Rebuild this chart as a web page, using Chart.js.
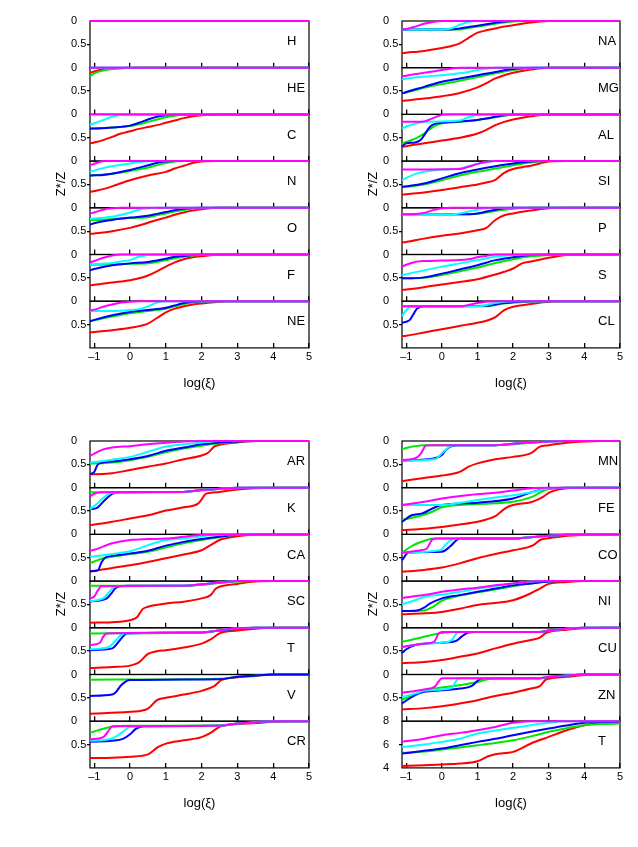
<!DOCTYPE html>
<html>
<head>
<meta charset="utf-8">
<script src="https://cdn.jsdelivr.net/npm/chart.js@4.4.1/dist/chart.umd.min.js"></script>
<style>
  body { margin: 0; background: #fff; }
  #page { position: relative; width: 638px; height: 847px; overflow: hidden;
          font-family: "Liberation Sans", Arial, sans-serif; color: #000; }
  .box { position: absolute; }
  .txt { position: absolute; font-size: 13px; line-height: 13px; white-space: nowrap; }
  .rot { transform: translate(-50%, -50%) rotate(-90deg); }
  .mid { transform: translate(-50%, -50%); }
</style>
</head>
<body>
<div id="page"></div>
<script>
// ── Données ────────────────────────────────────────────────────────────────
const XT = [-1, 0, 1, 2, 3, 4, 5];     // graduations log(ξ)
const ZT = [0, 0.5];                   // graduations Z*/Z
const TT = [4, 6, 8];                  // graduations du panneau T (log T)

// chaque élément : rouge, vert, bleu, cyan, magenta — paires x,y à plat
const H = [
  [-1.12,0, 5,0], [-1.12,0, 5,0], [-1.12,0, 5,0], [-1.12,0, 5,0], [-1.12,0, 5,0],
];
const HE = [
  [-1.12,.11, -1,.08, -0.75,.04, -0.5,.02, -0.25,.01, 0,0, 5,0],
  [-1.12,.18, -1,.12, -0.75,.06, -0.5,.03, -0.25,.01, 0.25,0, 5,0],
  [-1.12,0, 5,0], [-1.12,0, 5,0], [-1.12,0, 5,0],
];
const C = [
  [-1.12,.62, -1,.6, -0.75,.55, -0.5,.48, -0.25,.41, 0,.36, 0.25,.31, 0.5,.27, 0.75,.23, 1,.18, 1.25,.13, 1.5,.08, 1.75,.04, 2,.02, 2.5,0, 5,0],
  [-1.12,.3, -1,.3, -0.5,.28, 0,.25, 0.25,.21, 0.5,.16, 0.75,.11, 1,.06, 1.25,.03, 1.5,.01, 2,0, 5,0],
  [-1.12,.3, -1,.3, -0.5,.28, 0,.24, 0.25,.18, 0.5,.11, 0.75,.05, 1,.02, 1.25,0, 5,0],
  [-1.12,.23, -1,.19, -0.75,.12, -0.5,.05, -0.25,.01, 0,0, 5,0],
  [-1.12,0, 5,0],
];
const N = [
  [-1.12,.66, -0.7,.59, -0.35,.5, 0,.41, 0.5,.31, 1,.23, 1.25,.16, 1.55,.09, 1.75,.04, 2,.01, 2.5,0, 5,0],
  [-1.12,.31, -0.5,.27, 0,.21, 0.6,.12, 0.85,.07, 1.07,.03, 1.5,0, 5,0],
  [-1.12,.31, -0.7,.29, 0,.19, 0.5,.09, 0.75,.04, 0.95,.01, 1.25,0, 5,0],
  [-1.12,.23, -0.7,.14, 0,.05, 0.4,.01, 0.75,0, 5,0],
  [-1.12,.09, -0.9,.03, -0.7,0, 5,0],
];
const O = [
  [-1.12,.56, -1,.55, -0.5,.5, 0,.43, 0.25,.38, 0.5,.32, 0.75,.26, 1,.21, 1.25,.15, 1.5,.1, 1.75,.06, 2,.03, 2.5,0, 5,0],
  [-1.12,.26, -1,.26, -0.5,.24, 0,.22, 0.5,.2, 0.75,.16, 1,.12, 1.25,.08, 1.5,.05, 1.75,.02, 2,.01, 2.5,0, 5,0],
  [-1.12,.36, -1,.33, -0.5,.26, 0,.21, 0.5,.17, 0.75,.13, 1,.09, 1.25,.05, 1.5,.02, 2,0, 5,0],
  [-1.12,.24, -1,.23, -0.5,.19, -0.25,.15, 0,.1, 0.25,.04, 0.5,.01, 0.75,0, 5,0],
  [-1.12,.12, -1,.1, -0.75,.04, -0.5,.01, -0.25,0, 5,0],
];
const F = [
  [-1.12,.66, -1,.65, -0.5,.6, 0,.55, 0.25,.51, 0.5,.45, 0.75,.36, 1,.26, 1.25,.17, 1.5,.1, 1.75,.06, 2,.035, 2.25,.015, 2.5,0, 5,0],
  [-1.12,.22, -1,.22, -0.5,.21, 0,.2, 0.5,.19, 0.75,.16, 1,.12, 1.25,.08, 1.5,.05, 1.75,.02, 2,.01, 2.5,0, 5,0],
  [-1.12,.34, -1,.31, -0.5,.23, 0,.19, 0.5,.16, 0.75,.13, 1,.09, 1.25,.05, 1.5,.03, 2,0, 5,0],
  [-1.12,.22, -1,.21, -0.5,.18, -0.25,.15, 0,.12, 0.25,.05, 0.5,.01, 0.75,0, 5,0],
  [-1.12,.17, -1,.14, -0.75,.07, -0.5,.02, -0.25,0, 5,0],
];
const NE = [
  [-1.12,.67, -1,.66, -0.5,.62, 0,.57, 0.5,.48, 0.75,.36, 1,.24, 1.25,.16, 1.5,.11, 1.75,.07, 2,.05, 2.25,.03, 2.5,.01, 2.75,0, 5,0],
  [-1.12,.43, -1,.41, -0.5,.33, 0,.26, 0.5,.21, 1,.16, 1.25,.11, 1.5,.06, 1.75,.03, 2,.01, 2.5,0, 5,0],
  [-1.12,.43, -1,.4, -0.5,.3, 0,.23, 0.5,.19, 1,.14, 1.25,.09, 1.5,.04, 1.75,.01, 2,0, 5,0],
  [-1.12,.21, -0.5,.21, 0,.19, 0.25,.17, 0.5,.11, 0.75,.03, 1,0, 5,0],
  [-1.12,.2, -1,.18, -0.75,.12, -0.5,.07, -0.25,.03, 0,.01, 0.25,0, 5,0],
];
const NA = [
  [-1.12,.69, -1,.68, -0.5,.64, 0,.58, 0.25,.54, 0.5,.48, 0.75,.36, 1,.25, 1.25,.2, 1.5,.16, 1.75,.12, 2,.09, 2.25,.06, 2.5,.03, 2.75,.01, 3,0, 5,0],
  [-1.12,.18, 0.5,.18, 0.75,.15, 1,.12, 1.25,.09, 1.5,.06, 1.75,.03, 2,.01, 2.5,0, 5,0],
  [-1.12,.18, 0.25,.18, 0.5,.16, 0.75,.13, 1,.1, 1.25,.07, 1.5,.04, 1.75,.01, 2,0, 5,0],
  [-1.12,.18, 0,.18, 0.25,.16, 0.5,.08, 0.75,.02, 1,0, 5,0],
  [-1.12,.18, -1,.17, -0.75,.12, -0.5,.06, -0.25,.02, 0,0, 5,0],
];
const MG = [
  [-1.12,.71, -1,.7, -0.5,.66, 0,.61, 0.5,.54, 1,.42, 1.25,.33, 1.5,.23, 1.75,.16, 2,.11, 2.5,.04, 3,0, 5,0],
  [-1.12,.55, -1,.53, -0.5,.43, 0,.35, 0.5,.28, 1,.2, 1.5,.12, 2,.05, 2.5,.01, 3,0, 5,0],
  [-1.12,.55, -1,.52, -0.5,.41, 0,.3, 0.5,.23, 1,.16, 1.5,.09, 2,.03, 2.5,0, 5,0],
  [-1.12,.25, -1,.23, -0.5,.19, 0,.16, 0.5,.12, 1,.05, 1.25,.02, 1.5,0, 5,0],
  [-1.12,.18, -1,.17, -0.5,.11, 0,.05, 0.25,.02, 0.5,0, 5,0],
];
const AL = [
  [-1.12,.69, -1,.68, -0.5,.62, 0,.56, 0.5,.5, 1,.41, 1.25,.33, 1.5,.23, 1.75,.16, 2,.11, 2.5,.04, 3,0, 5,0],
  [-1.12,.62, -1,.59, -0.75,.52, -0.5,.41, -0.25,.27, 0,.19, 0.5,.16, 1,.12, 1.25,.09, 1.5,.06, 1.75,.03, 2,.01, 2.5,0, 5,0],
  [-1.12,.69, -1,.62, -0.75,.6, -0.6,.55, -0.5,.45, -0.35,.28, -0.25,.22, 0,.18, 0.5,.15, 1,.12, 1.25,.09, 1.5,.05, 1.75,.02, 2,0, 5,0],
  [-1.12,.3, -1,.26, -0.75,.2, -0.5,.16, 0,.15, 0.5,.13, 0.75,.06, 1,.01, 1.25,0, 5,0],
  [-1.12,.16, -0.5,.15, -0.25,.08, 0,.01, 0.25,0, 5,0],
];
const SI = [
  [-1.12,.72, -1,.71, -0.5,.67, 0,.62, 0.5,.56, 1,.5, 1.25,.46, 1.5,.4, 1.75,.25, 2,.17, 2.25,.13, 2.5,.1, 2.75,.05, 3,.01, 3.5,0, 5,0],
  [-1.12,.55, -1,.55, -0.5,.5, 0,.41, 0.5,.31, 1,.23, 1.5,.16, 2,.09, 2.5,.03, 3,0, 5,0],
  [-1.12,.55, -1,.54, -0.5,.48, 0,.37, 0.5,.26, 1,.18, 1.5,.11, 2,.05, 2.5,.01, 3,0, 5,0],
  [-1.12,.41, -1,.36, -0.75,.28, -0.5,.23, 0,.18, 0.5,.16, 0.75,.11, 1,.06, 1.25,.02, 1.5,0, 5,0],
  [-1.12,.18, 0.5,.17, 0.75,.12, 1,.06, 1.25,.02, 1.5,0, 5,0],
];
const P = [
  [-1.12,.74, -1,.73, -0.5,.66, 0,.6, 0.5,.55, 1,.48, 1.25,.43, 1.5,.26, 1.75,.16, 2,.12, 2.5,.06, 3,.01, 3.5,0, 5,0],
  [-1.12,.14, 0.75,.14, 1,.13, 1.25,.1, 1.5,.07, 1.75,.04, 2,.02, 2.5,0, 5,0],
  [-1.12,.14, 0.5,.14, 1,.12, 1.25,.08, 1.5,.04, 1.75,.01, 2,0, 5,0],
  [-1.12,.14, 0,.14, 0.5,.12, 0.75,.08, 1,.04, 1.25,.01, 1.5,0, 5,0],
  [-1.12,.14, -1,.14, -0.5,.11, -0.25,.05, 0,.01, 0.25,0, 5,0],
];
const S = [
  [-1.12,.76, -1,.75, -0.5,.7, 0,.64, 0.5,.59, 1,.53, 1.5,.43, 1.75,.37, 2,.3, 2.25,.19, 2.5,.15, 3,.07, 3.5,.01, 4,0, 5,0],
  [-1.12,.51, -1,.51, -0.5,.5, 0,.44, 0.5,.36, 1,.28, 1.5,.18, 2,.1, 2.5,.04, 3,.01, 3.5,0, 5,0],
  [-1.12,.51, -1,.51, -0.5,.49, 0,.41, 0.5,.32, 1,.23, 1.5,.12, 2,.06, 2.5,.01, 3,0, 5,0],
  [-1.12,.44, -1,.42, -0.5,.34, 0,.26, 0.5,.19, 1,.12, 1.5,.05, 2,.01, 2.5,0, 5,0],
  [-1.12,.26, -1,.22, -0.75,.16, -0.5,.14, 0,.13, 0.5,.12, 0.75,.1, 1,.06, 1.25,.03, 1.5,0, 5,0],
];
const CL = [
  [-1.12,.75, -1,.74, -0.5,.67, 0,.6, 0.5,.53, 1,.46, 1.25,.42, 1.5,.34, 1.75,.19, 2,.12, 2.5,.06, 3,.01, 3.5,0, 5,0],
  [-1.12,.11, 1.25,.11, 1.5,.08, 1.75,.05, 2,.03, 2.5,.01, 3,0, 5,0],
  [-1.12,.46, -1,.44, -0.9,.4, -0.8,.28, -0.7,.16, -0.6,.12, -0.5,.11, 1.25,.1, 1.5,.07, 1.75,.04, 2,.02, 2.5,0, 5,0],
  [-1.12,.32, -1,.19, -0.85,.12, -0.5,.11, 1,.11, 1.25,.08, 1.5,.04, 1.75,.01, 2,0, 5,0],
  [-1.12,.11, 0.5,.11, 0.75,.08, 1,.04, 1.25,.01, 1.5,0, 5,0],
];
const AR = [
  [-1.12,.71, -1,.71, -0.5,.69, 0,.62, 0.5,.55, 1,.48, 1.5,.39, 2,.31, 2.2,.24, 2.35,.12, 2.5,.08, 3,.03, 3.5,0, 5,0],
  [-1.12,.48, -1,.48, -0.5,.46, 0,.41, 0.5,.34, 1,.24, 1.5,.16, 2,.1, 2.5,.05, 3,.01, 3.5,0, 5,0],
  [-1.12,.71, -1,.66, -0.9,.5, -0.75,.46, -0.5,.44, 0,.39, 0.5,.32, 1,.21, 1.5,.14, 2,.07, 2.5,.03, 3,.01, 3.5,0, 5,0],
  [-1.12,.46, -1,.45, -0.5,.4, 0,.34, 0.5,.23, 0.75,.17, 1,.12, 1.5,.07, 2,.03, 2.5,0, 5,0],
  [-1.12,.32, -1,.27, -0.75,.18, -0.5,.14, 0,.11, 0.5,.07, 1,.04, 1.5,.01, 2,0, 5,0],
];
const K = [
  [-1.12,.8, -1,.79, -0.5,.73, 0,.66, 0.5,.59, 1,.49, 1.5,.42, 1.9,.34, 2,.25, 2.1,.14, 2.25,.11, 2.5,.09, 3,.04, 3.5,.01, 4,0, 5,0],
  [-1.12,.1, 1.5,.09, 2,.06, 2.5,.03, 3,.01, 3.5,0, 5,0],
  [-1.12,.46, -1,.45, -0.9,.42, -0.75,.3, -0.6,.19, -0.5,.13, -0.25,.1, 1.5,.09, 2,.05, 2.5,.02, 3,0, 5,0],
  [-1.12,.46, -1,.39, -0.9,.33, -0.75,.22, -0.6,.14, -0.5,.11, 1.5,.09, 2,.05, 2.5,.02, 3,0, 5,0],
  [-1.12,.19, -1,.13, -0.8,.1, 1.5,.09, 2,.05, 2.5,.02, 3,0, 5,0],
];
const CA = [
  [-1.12,.79, -1,.78, -0.5,.72, 0,.66, 0.5,.59, 1,.51, 1.5,.43, 2,.34, 2.25,.23, 2.5,.12, 3,.04, 3.5,0, 5,0],
  [-1.12,.61, -1,.58, -0.75,.51, -0.5,.48, 0,.42, 0.5,.37, 1,.28, 1.5,.19, 2,.12, 2.5,.06, 3,.01, 3.5,0, 5,0],
  [-1.12,.79, -0.9,.77, -0.8,.6, -0.7,.5, -0.5,.46, 0,.41, 0.5,.35, 1,.24, 1.5,.16, 2,.1, 2.5,.05, 3,.01, 3.5,0, 5,0],
  [-1.12,.48, -1,.47, -0.5,.42, 0,.36, 0.25,.3, 0.5,.23, 1,.12, 1.5,.09, 2,.04, 2.5,0, 5,0],
  [-1.12,.35, -1,.33, -0.5,.19, 0,.12, 0.5,.1, 1,.09, 1.5,.05, 2,.01, 2.5,0, 5,0],
];
const SC = [
  [-1.12,.89, -0.5,.88, 0,.84, 0.2,.77, 0.35,.6, 0.5,.55, 1,.48, 1.5,.44, 2,.37, 2.25,.3, 2.4,.16, 2.5,.12, 3,.06, 3.5,.01, 4,0, 5,0],
  [-1.12,.1, 1.5,.1, 2,.08, 2.5,.04, 3,.01, 3.5,0, 5,0],
  [-1.12,.44, -0.65,.37, -0.5,.24, -0.42,.16, -0.28,.11, -0.1,.1, 1.5,.1, 2,.07, 2.5,.03, 3,0, 5,0],
  [-1.12,.43, -0.75,.37, -0.6,.25, -0.5,.16, -0.37,.11, 1.5,.1, 2,.07, 2.5,.03, 3,0, 5,0],
  [-1.12,.37, -1,.33, -0.9,.2, -0.8,.11, 1.5,.1, 2,.07, 2.5,.03, 3,0, 5,0],
];
const TI = [
  [-1.12,.86, -0.5,.84, 0,.81, 0.25,.74, 0.5,.56, 0.75,.5, 1,.48, 1.5,.42, 2,.34, 2.25,.25, 2.5,.12, 3,.06, 3.5,.02, 4,0, 5,0],
  [-1.12,.12, 2,.1, 2.5,.06, 3,.02, 3.5,0, 5,0],
  [-1.12,.48, -0.5,.44, -0.28,.26, -0.09,.12, 2,.1, 2.5,.06, 3,.02, 3.5,0, 5,0],
  [-1.12,.46, -0.6,.41, -0.37,.25, -0.19,.12, 2,.1, 2.5,.05, 3,.01, 3.5,0, 5,0],
  [-1.12,.37, -0.84,.32, -0.75,.19, -0.65,.12, 2,.1, 2.5,.05, 3,.01, 3.5,0, 5,0],
];
const V = [
  [-1.12,.84, -0.5,.82, 0,.8, 0.5,.73, 0.75,.55, 1,.5, 1.5,.43, 2,.35, 2.35,.25, 2.55,.12, 3,.06, 3.5,.03, 4,0, 5,0],
  [-1.12,.11, 2.5,.09, 3,.05, 3.5,.02, 4,0, 5,0],
  [-1.12,.46, -0.5,.43, -0.4,.38, -0.25,.23, -0.1,.14, 0,.12, 2.5,.1, 3,.05, 3.5,.02, 4,0, 5,0],
  [],
  [],
];
const CR = [
  [-1.12,.79, -0.5,.78, 0,.76, 0.5,.71, 0.79,.55, 1,.48, 1.5,.41, 2,.34, 2.25,.25, 2.5,.12, 3,.06, 3.5,.04, 4,.01, 4.5,0, 5,0],
  [-1.12,.25, -1,.22, -0.75,.16, -0.5,.12, 0,.1, 2.5,.09, 3,.05, 3.5,.02, 4,0, 5,0],
  [-1.12,.44, -0.5,.42, -0.2,.38, 0,.28, 0.15,.17, 0.3,.12, 0.4,.11, 2.5,.1, 3,.05, 3.5,.02, 4,0, 5,0],
  [-1.12,.42, -0.5,.37, -0.2,.23, 0,.12, 0.25,.11, 2.5,.1, 3,.05, 3.5,.02, 4,0, 5,0],
  [-1.12,.39, -0.75,.34, -0.56,.16, -0.5,.11, 2.5,.1, 3,.05, 3.5,.02, 4,0, 5,0],
];
const MN = [
  [-1.12,.86, -0.5,.79, 0,.74, 0.5,.66, 0.75,.55, 1,.48, 1.5,.39, 2,.34, 2.5,.26, 2.75,.12, 3,.09, 3.5,.04, 4,.01, 4.5,0, 5,0],
  [-1.12,.18, -1,.15, -0.75,.11, -0.5,.09, 1.5,.09, 2,.07, 2.5,.04, 3,.01, 3.5,0, 5,0],
  [-1.12,.42, -0.2,.37, 0,.3, 0.1,.2, 0.3,.1, 0.45,.09, 1.5,.09, 2,.06, 2.5,.03, 3,.01, 3.5,0, 5,0],
  [-1.12,.42, -0.2,.39, 0,.26, 0.22,.12, 0.4,.09, 1.5,.09, 2,.06, 2.5,.03, 3,.01, 3.5,0, 5,0],
  [-1.12,.41, -0.75,.37, -0.6,.28, -0.45,.1, -0.35,.09, 1.5,.09, 2,.06, 2.5,.03, 3,.01, 3.5,0, 5,0],
];
const FE = [
  [-1.12,.91, -0.5,.88, 0,.84, 0.5,.79, 1,.73, 1.25,.68, 1.5,.61, 1.65,.52, 1.8,.43, 2,.37, 2.5,.31, 2.7,.25, 2.85,.19, 3.05,.09, 3.5,.01, 4,0, 5,0],
  [-1.12,.69, -0.55,.59, -0.25,.51, 0,.42, 1,.35, 2,.3, 2.55,.19, 2.9,.05, 3.5,0, 5,0],
  [-1.12,.73, -0.85,.59, -0.55,.55, -0.25,.44, 0,.37, 1,.32, 2,.23, 2.55,.09, 2.9,.03, 3.5,0, 5,0],
  [-1.12,.37, 0,.37, 0.7,.3, 1.5,.21, 2,.16, 2.55,.09, 2.9,.03, 3.5,0, 5,0],
  [-1.12,.37, -0.5,.3, 0,.23, 0.7,.16, 1.5,.11, 2,.06, 2.5,.01, 3,0, 5,0],
];
const CO = [
  [-1.12,.8, -0.5,.76, 0,.71, 0.5,.62, 1,.51, 1.5,.42, 2,.34, 2.57,.23, 2.76,.12, 2.94,.09, 3.3,.05, 4,.01, 4.5,0, 5,0],
  [-1.12,.39, -0.8,.23, -0.42,.12, -0.23,.09, 2,.09, 2.5,.06, 3,.03, 3.5,.01, 4,0, 5,0],
  [-1.12,.55, -0.93,.39, 0,.37, 0.23,.26, 0.42,.12, 0.56,.09, 2,.09, 2.5,.06, 3,.03, 3.5,.01, 4,0, 5,0],
  [-1.12,.39, -0.05,.34, 0.14,.19, 0.28,.11, 0.4,.09, 2,.09, 2.5,.06, 3,.03, 3.5,.01, 4,0, 5,0],
  [-1.12,.39, -0.6,.34, -0.42,.3, -0.28,.12, -0.15,.09, 2,.09, 2.5,.06, 3,.03, 3.5,.01, 4,0, 5,0],
];
const NI = [
  [-1.12,.71, -0.5,.69, 0,.66, 0.5,.59, 1,.51, 1.5,.47, 2,.41, 2.5,.26, 2.75,.16, 3,.06, 3.5,.02, 4,0, 5,0],
  [-1.12,.64, -0.5,.63, -0.25,.55, 0,.42, 0.5,.31, 1,.24, 1.5,.18, 2,.11, 2.5,.05, 3,.01, 3.5,0, 5,0],
  [-1.12,.64, -0.7,.63, -0.5,.57, -0.35,.49, 0,.37, 0.5,.3, 1,.23, 1.5,.16, 2,.09, 2.5,.05, 3,.01, 3.5,0, 5,0],
  [-1.12,.5, -0.75,.41, -0.5,.34, 0,.29, 0.5,.23, 1,.16, 1.5,.11, 2,.05, 2.5,.01, 3,0, 5,0],
  [-1.12,.36, -0.5,.3, 0,.23, 0.5,.18, 1,.14, 1.5,.09, 2,.05, 2.5,.01, 3,0, 5,0],
];
const CU = [
  [-1.12,.76, -0.5,.73, 0,.69, 0.5,.62, 1,.55, 1.5,.44, 2,.34, 2.5,.26, 2.75,.21, 2.9,.12, 3,.09, 3.5,.04, 4,.01, 4.5,0, 5,0],
  [-1.12,.3, -1,.28, -0.5,.19, 0,.11, 0.3,.09, 2.75,.09, 3,.06, 3.5,.02, 4,0, 5,0],
  [-1.12,.54, -1,.46, -0.75,.37, -0.5,.34, 0,.32, 0.4,.28, 0.55,.19, 0.74,.1, 0.9,.09, 2.75,.09, 3,.06, 3.5,.02, 4,0, 5,0],
  [-1.12,.41, -0.5,.34, 0,.32, 0.28,.26, 0.42,.11, 0.5,.09, 2.75,.09, 3,.06, 3.5,.02, 4,0, 5,0],
  [-1.12,.41, -0.5,.34, -0.22,.3, -0.09,.12, 0,.09, 2.75,.09, 3,.06, 3.5,.02, 4,0, 5,0],
];
const ZN = [
  [-1.12,.75, -0.5,.72, 0,.68, 0.5,.62, 1,.55, 1.5,.46, 2,.39, 2.5,.3, 2.75,.25, 2.9,.12, 3,.09, 3.5,.05, 4,.01, 4.5,0, 5,0],
  [-1.12,.54, -0.75,.43, -0.5,.34, 0,.28, 0.5,.23, 1,.16, 1.4,.09, 2.75,.08, 3,.05, 3.5,.02, 4,0, 5,0],
  [-1.12,.62, -0.75,.44, -0.5,.37, 0,.34, 0.5,.3, 0.83,.25, 1.06,.1, 1.2,.08, 2.75,.08, 3,.05, 3.5,.02, 4,0, 5,0],
  [-1.12,.48, -0.75,.41, -0.5,.35, 0,.32, 0.28,.28, 0.42,.12, 0.5,.08, 2.75,.08, 3,.05, 3.5,.02, 4,0, 5,0],
  [-1.12,.39, -0.5,.32, -0.2,.26, -0.1,.16, 0,.08, 2.75,.08, 3,.05, 3.5,.02, 4,0, 5,0],
];
const TEMP = [
  [-1.12,4.17, -0.5,4.23, 0,4.29, 0.5,4.37, 1,4.57, 1.3,5.0, 1.5,5.17, 2,5.37, 2.5,6.09, 3,6.66, 3.5,7.23, 4,7.66, 4.5,7.8, 5,7.86],
  [-1.12,5.29, -0.5,5.4, 0,5.57, 0.5,5.75, 1,5.94, 1.5,6.14, 2,6.37, 2.5,6.7, 3,7.09, 3.5,7.4, 4,7.66, 4.5,7.76, 5,7.8],
  [-1.12,5.23, -0.5,5.46, 0,5.66, 0.5,5.94, 1,6.23, 1.5,6.5, 2,6.8, 2.5,7.09, 3,7.37, 3.5,7.63, 4,7.86, 4.5,7.94, 5,7.97],
  [-1.12,5.8, -0.5,6.0, 0,6.23, 0.5,6.5, 1,6.94, 1.5,7.2, 2,7.43, 2.5,7.66, 3,7.86, 3.3,7.97, 3.5,8, 5,8],
  [-1.12,6.23, -0.5,6.5, 0,6.8, 0.5,7.0, 1,7.23, 1.5,7.51, 2,7.86, 2.25,7.96, 2.5,8, 5,8],
];

const NAMES_TL = ["H", "HE", "C", "N", "O", "F", "NE"];
const NAMES_TR = ["NA", "MG", "AL", "SI", "P", "S", "CL"];
const NAMES_BL = ["AR", "K", "CA", "SC", "T", "V", "CR"];
const NAMES_BR = ["MN", "FE", "CO", "NI", "CU", "ZN", "T"];

// ── Mise en page ───────────────────────────────────────────────────────────
const COLORS = ["#ff0000", "#00e600", "#0000ff", "#00ffff", "#ff00ff"];
const ORDER  = [4, 3, 2, 1, 0];   // magenta dessiné en dernier
const SUBH   = 46.7;
const FONT   = "'Liberation Sans', Arial, sans-serif";

const PANELS = [
  { left: 90,  top: 21,  width: 219, names: NAMES_TL, data: [H, HE, C, N, O, F, NE] },
  { left: 402, top: 21,  width: 218, names: NAMES_TR, data: [NA, MG, AL, SI, P, S, CL] },
  { left: 90,  top: 441, width: 219, names: NAMES_BL, data: [AR, K, CA, SC, TI, V, CR] },
  { left: 402, top: 441, width: 218, names: NAMES_BR, data: [MN, FE, CO, NI, CU, ZN, TEMP] },
];

Chart.defaults.font.family = FONT;
Chart.defaults.color = "#000";

const framePlugin = {
  id: "frame",
  beforeDatasetsDraw(chart) {
    const { ctx, chartArea: a } = chart;
    ctx.save();
    ctx.strokeStyle = "#000";
    ctx.lineWidth = 1.2;
    ctx.strokeRect(a.left, a.top, a.right - a.left, a.bottom - a.top);
    ctx.restore();
  },
};

const page = document.getElementById("page");

function toPoints(flat) {
  const out = [];
  for (let i = 0; i < flat.length; i += 2) out.push({ x: flat[i], y: flat[i + 1] });
  return out;
}

function addText(text, x, y, cls) {
  const d = document.createElement("div");
  d.className = "txt " + cls;
  d.style.left = x + "px";
  d.style.top = y + "px";
  d.textContent = text;
  page.appendChild(d);
}

function makeSubplot(panel, row) {
  const last   = row === panel.data.length - 1;
  const isTemp = panel.data[row] === TEMP;
  const plotTop = panel.top + row * SUBH;
  const boxTop  = Math.floor(plotTop) - 10;
  const padTop  = plotTop - boxTop;
  const axisH   = last ? 22 : 0;
  const boxH    = Math.ceil(padTop + SUBH + axisH + 10);
  const padBot  = boxH - padTop - SUBH - axisH;
  const boxLeft = panel.left - 45;
  const boxW    = 45 + panel.width + 12;

  const box = document.createElement("div");
  box.className = "box";
  Object.assign(box.style, { left: boxLeft + "px", top: boxTop + "px", width: boxW + "px", height: boxH + "px" });
  const canvas = document.createElement("canvas");
  box.appendChild(canvas);
  page.appendChild(box);

  new Chart(canvas, {
    type: "line",
    data: {
      datasets: panel.data[row].map((pts, i) => ({
        data: toPoints(pts),
        borderColor: COLORS[i],
        borderWidth: 2,
        pointRadius: 0,
        cubicInterpolationMode: "monotone",
        fill: false,
        order: ORDER[i],
        clip: 3,
      })),
    },
    options: {
      responsive: true,
      maintainAspectRatio: false,
      animation: false,
      events: [],
      layout: { padding: { top: padTop, bottom: padBot, left: 26, right: 12 } },
      plugins: { legend: { display: false }, tooltip: { enabled: false } },
      scales: {
        x: {
          type: "linear", min: -1.12, max: 5,
          afterBuildTicks: s => { s.ticks = XT.map(v => ({ value: v })); },
          afterFit: s => { s.height = axisH; },
          grid: { drawOnChartArea: false, drawTicks: true, tickLength: -5, color: "#000", lineWidth: 1.3 },
          border: { display: false },
          ticks: {
            display: last, autoSkip: false, maxRotation: 0, padding: 7,
            font: { size: 11 },
            callback: v => v < 0 ? "\u2013" + (-v) : String(v),
          },
        },
        y: {
          type: "linear",
          reverse: !isTemp,
          min: isTemp ? 4 : 0,
          max: isTemp ? 8 : 1,
          afterBuildTicks: s => { s.ticks = (isTemp ? TT : ZT).map(v => ({ value: v })); },
          afterFit: s => { s.width = 19; },
          grid: {
            drawOnChartArea: false, drawTicks: true, tickLength: 3, lineWidth: 1.3,
            color: c => (c.index === 1 ? "#000" : "rgba(0,0,0,0)"),
          },
          border: { display: false },
          ticks: { autoSkip: false, crossAlign: "far", padding: 0, font: { size: 11 } },
        },
      },
    },
    plugins: [framePlugin],
  });

  addText(panel.names[row], panel.left + panel.width - 22, plotTop + 13.2, "");
}

PANELS.forEach(panel => {
  panel.data.forEach((_, row) => makeSubplot(panel, row));
  const bottom = panel.top + SUBH * panel.data.length;
  addText("Z*/Z", panel.left - 30, panel.top + SUBH * panel.data.length / 2, "rot");
  addText("log(\u03be)", panel.left + panel.width / 2, bottom + 34, "mid");
});
</script>
</body>
</html>
